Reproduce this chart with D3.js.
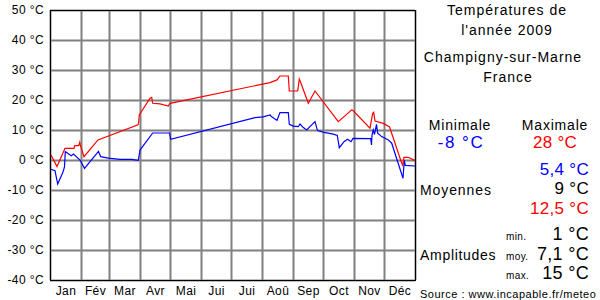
<!DOCTYPE html>
<html>
<head>
<meta charset="utf-8">
<script src="https://cdn.jsdelivr.net/npm/d3@7"></script>
<style>
  body { margin: 0; background: #fff; }
  text { font-family: "Liberation Sans", Arial, sans-serif; }
</style>
</head>
<body>
<div id="vis"></div>
<script>
// day of year (0..365) and temperature
let maxTemps = [
    [1, 1.7], [7, -2.2], [15, 3.9], [24, 3.9], [24.7, 4.8], [28.7, 4.8], [29.7, 5.9], [30.3, 5.0],
    [34, 1.1], [48, 6.7], [88, 11.7], [88.5, 12.2], [89.3, 15], [100, 20.6], [101.7, 20.9],
    [102.7, 18.9], [110, 18.7], [118.3, 18], [120, 18.9], [220, 25.8], [227, 26.7], [230, 28],
    [238.3, 28], [239.3, 23], [247.7, 23], [249.3, 27], [251, 25.6], [258.3, 18.9], [265, 23],
    [288.3, 12.8], [301.7, 16.7], [303, 16.5], [320, 10.6], [322.7, 15.6], [323.7, 15.9],
    [325, 13], [333.3, 12.2], [339.3, 11.1], [340, 10.6], [351.7, -1.1], [352.7, -1.7],
    [354, 0.9], [358.3, 0.9], [365, -0.2]
]

let minTemps = [
    [1, -3.1], [5, -3.6], [7.7, -8], [13, -4], [14.5, -2.3], [15.3, 2.8], [18.7, 2], [21.3, 1.4],
    [23.5, 2], [30, 0], [34.5, -2.8], [48.5, 2.9], [50.7, 1.1], [58.3, 0.6], [70, 0.2], [81.7, 0.2],
    [88.3, -0.1], [90, 3.3], [102.7, 9], [119.5, 9], [120.7, 6.9], [205, 14.1], [213.3, 14.4],
    [220, 15], [221.7, 14.4], [227, 13.2], [230, 15.8], [238.3, 15.8], [239.3, 11.9], [243.3, 11.3],
    [248.3, 11.1], [250, 12], [253.3, 10.8], [256.7, 10], [265, 12.8], [267.5, 9.8], [274, 9.2],
    [283.3, 8.6], [287.3, 8.2], [289.3, 4.1], [294, 6.1], [297.5, 6.9], [301, 6.1], [303, 7.2],
    [320.7, 7.1], [321.5, 5], [322, 8.3], [323.3, 10], [324.5, 8.5], [326.5, 11.9], [327.7, 8.9],
    [331.7, 7.8], [338.3, 6.7], [341.7, 5.6], [353, -6.1], [354.3, -0.1], [355.3, -1.8], [365, -2]
]

let monthStarts = [0, 31, 59, 90, 120, 151, 181, 212, 243, 273, 304, 334, 365]
let monthNames = ['Jan', 'Fév', 'Mar', 'Avr', 'Mai', 'Jui', 'Jui', 'Aoû', 'Sep', 'Oct', 'Nov', 'Déc']
let tempTicks = [-40, -30, -20, -10, 0, 10, 20, 30, 40, 50]

let svg = d3.select("#vis")
                .append('svg')
                .attr('width', 600)
                .attr('height', 300)

let x = d3.scaleLinear().domain([0, 365]).range([50, 415])
let y = d3.scaleLinear().domain([-40, 50]).range([280, 10])

// horizontal grid + temperature labels
let yAxis = svg.append('g')
    .attr('transform', 'translate(50,0)')
    .call(d3.axisLeft(y).tickValues(tempTicks).tickSize(-365).tickPadding(6)
        .tickFormat(d => d + ' °C'))
yAxis.select('.domain').remove()
yAxis.selectAll('line').attr('stroke', '#808080').attr('stroke-width', 2)
yAxis.selectAll('text').attr('font-size', 12).attr('fill', '#000')
    .attr('letter-spacing', 0.4)
    .style('font-family', '"Liberation Sans", Arial, sans-serif')

// vertical grid at month boundaries
let xGrid = svg.append('g')
    .attr('transform', 'translate(0,280)')
    .call(d3.axisBottom(x).tickValues(monthStarts).tickSize(-270).tickFormat(''))
xGrid.select('.domain').remove()
xGrid.selectAll('line').attr('stroke', '#808080').attr('stroke-width', 2)

// month labels in the middle of each month
let mids = monthStarts.slice(0, 12).map((d, i) => (d + monthStarts[i + 1]) / 2)
let xAxis = svg.append('g')
    .attr('transform', 'translate(0,280)')
    .call(d3.axisBottom(x).tickValues(mids).tickSize(0).tickPadding(6)
        .tickFormat((d, i) => monthNames[i]))
xAxis.select('.domain').remove()
xAxis.selectAll('text').attr('font-size', 12).attr('fill', '#000')
    .attr('letter-spacing', 0.4)
    .style('font-family', '"Liberation Sans", Arial, sans-serif')

// frame
svg.append('rect')
    .attr('x', 50.5).attr('y', 10.5)
    .attr('width', 365).attr('height', 270)
    .attr('fill', 'none').attr('stroke', 'black')

let line = d3.line().x(d => x(d[0])).y(d => y(d[1]))

svg.append('path')
    .datum(minTemps)
    .attr('d', line)
    .attr('fill', 'none')
    .attr('stroke', '#0000ff')
    .attr('stroke-width', 1.2)

svg.append('path')
    .datum(maxTemps)
    .attr('d', line)
    .attr('fill', 'none')
    .attr('stroke', '#ff0000')
    .attr('stroke-width', 1.2)

// right panel
function label(txt, tx, ty, size, anchor, color, spacing){
    svg.append('text')
        .attr('x', tx).attr('y', ty)
        .attr('font-size', size)
        .attr('text-anchor', anchor)
        .attr('fill', color)
        .attr('letter-spacing', spacing || 0)
        .text(txt)
}

label('Températures de', 507, 15, 14, 'middle', '#000', 1)
label("l'année 2009", 507, 35, 14, 'middle', '#000', 1)
label('Champigny-sur-Marne', 503, 62, 14, 'middle', '#000', 1)
label('France', 508, 82, 14, 'middle', '#000', 1)

label('Minimale', 460, 130, 14, 'middle', '#000', 0.8)
label('Maximale', 555, 130, 14, 'middle', '#000', 0.8)
label('-8 °C', 461, 148, 17, 'middle', '#0000ff', 1.5)
label('28 °C', 555, 148, 17, 'middle', '#ff0000', 0.3)

label('5,4 °C', 589, 175, 17, 'end', '#0000ff', 0.3)
label('Moyennes', 420, 195, 14, 'start', '#000', 0.9)
label('9 °C', 589, 194, 17, 'end', '#000', 0.3)
label('12,5 °C', 589, 214, 17, 'end', '#ff0000', 0.3)

label('min.', 506, 240, 10, 'start', '#000', 0.4)
label('moy.', 506, 260, 10, 'start', '#000', 0.4)
label('max.', 506, 279, 10, 'start', '#000', 0.4)
label('1 °C', 589, 240, 18, 'end', '#000', 0.3)
label('7,1 °C', 589, 260, 18, 'end', '#000', 0.3)
label('15 °C', 589, 279, 18, 'end', '#000', 0.3)
label('Amplitudes', 420, 260, 14, 'start', '#000', 0.7)

label('Source : www.incapable.fr/meteo', 420, 298, 11, 'start', '#000', 0.5)
</script>
</body>
</html>
